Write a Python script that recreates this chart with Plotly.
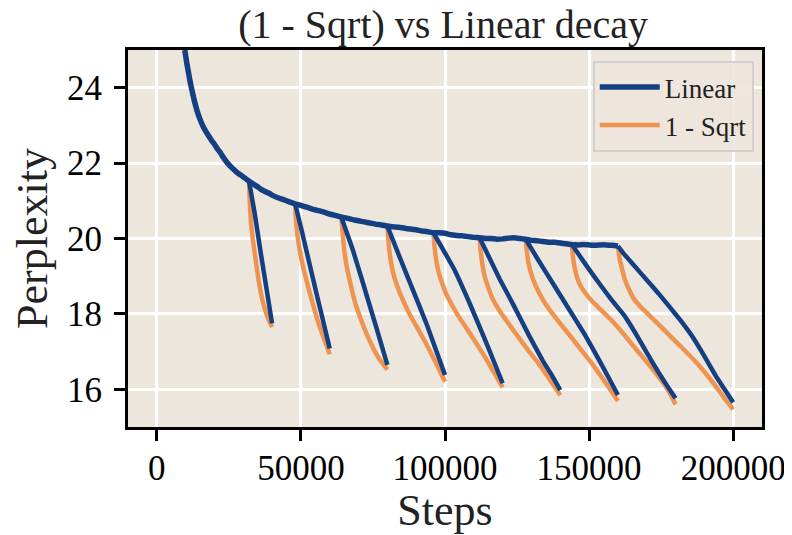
import plotly.graph_objects as go

BG = "rgb(237,230,221)"
BLUE = "#143f82"
ORANGE = "#ee9350"
FONT = "Liberation Serif"

title_text = "(1 - Sqrt) vs Linear decay"
x_label = "Steps"
y_label = "Perplexity"
series_names = ["Linear", "1 - Sqrt"]

x_ticks = [0, 50000, 100000, 150000, 200000]
x_tick_labels = ["0", "50000", "100000", "150000", "200000"]
y_ticks = [16, 18, 20, 22, 24]
y_tick_labels = ["16", "18", "20", "22", "24"]

# constant-LR run (shared trunk of the Linear runs)
main_steps = [9700, 10000, 10500, 11000, 11500, 12000, 13000, 14000, 15000, 16000, 17000, 18000,
              19000, 20000, 21000, 22000, 23000, 24000, 25000, 26000, 27000, 28000, 29000, 30000,
              31000, 32000, 33000, 34000, 35000, 36000, 37000, 38000, 39000, 40000, 42000, 44000,
              46000, 48000, 50000, 52000, 54000, 56000, 58000, 60000, 62000, 64000, 66000, 68000,
              70000, 72000, 74000, 76000, 78000, 80000, 82000, 84000, 86000, 88000, 90000, 92000,
              94000, 96000, 98000, 100000, 102000, 104000, 106000, 108000, 110000, 112000, 114000,
              116000, 118000, 120000, 122000, 124000, 126000, 128000, 130000, 132000, 134000,
              136000, 138000, 140000, 142000, 144000, 146000, 148000, 150000, 152000, 154000,
              156000, 158000, 160000]
main_ppl = [25.0, 24.85, 24.6, 24.4, 24.18, 24.0, 23.66, 23.38, 23.16, 22.98, 22.84, 22.72,
            22.6, 22.5, 22.38, 22.28, 22.16, 22.05, 21.96, 21.88, 21.81, 21.74, 21.69, 21.63,
            21.58, 21.52, 21.47, 21.42, 21.37, 21.31, 21.27, 21.23, 21.2, 21.15, 21.08, 21.03,
            20.97, 20.92, 20.88, 20.83, 20.78, 20.74, 20.7, 20.65, 20.61, 20.57, 20.54, 20.5,
            20.47, 20.44, 20.41, 20.38, 20.36, 20.33, 20.31, 20.3, 20.27, 20.25, 20.23, 20.2,
            20.18, 20.15, 20.15, 20.14, 20.1, 20.08, 20.07, 20.05, 20.03, 20.02, 20.0,
            20.0, 19.98, 19.99, 20.01, 20.02, 20.0, 19.98, 19.95, 19.94, 19.92,
            19.9, 19.9, 19.88, 19.86, 19.84, 19.83, 19.84, 19.83, 19.82, 19.83,
            19.83, 19.82, 19.8]

# Linear cooldown branches
lin_steps = [
    [32000, 34000, 36000, 38000, 40000],
    [48000, 50000, 52000, 54000, 56000, 58000, 60000],
    [64000, 68000, 72000, 76000, 80000],
    [80000, 84560, 89200, 93870, 100000],
    [96000, 103140, 108950, 114770, 120000],
    [112000, 115000, 119000, 124000, 129000, 134000, 137000, 140000],
    [128000, 132200, 138000, 142650, 148430, 154250, 160000],
    [144000, 146000, 150000, 154000, 158000, 162000, 166000, 170000, 174000, 177000, 180000],
    [160000, 162000, 166000, 170000, 174000, 178000, 182000, 186000, 190000, 194000, 197000, 200000],
]
lin_ppl = [
    [21.52, 20.65, 19.65, 18.7, 17.75],
    [20.92, 20.3, 19.65, 19.0, 18.35, 17.72, 17.08],
    [20.57, 19.7, 18.7, 17.68, 16.65],
    [20.33, 19.45, 18.57, 17.68, 16.38],
    [20.15, 19.19, 18.21, 17.15, 16.16],
    [20.02, 19.55, 18.92, 18.2, 17.45, 16.75, 16.38, 15.98],
    [19.98, 19.45, 18.74, 18.17, 17.46, 16.67, 15.85],
    [19.84, 19.62, 19.18, 18.76, 18.35, 17.98, 17.5, 16.97, 16.46, 16.1, 15.76],
    [19.8, 19.6, 19.25, 18.9, 18.55, 18.18, 17.8, 17.38, 16.88, 16.35, 16.0, 15.65],
]

# 1 - Sqrt cooldown branches
sqrt_steps = [
    [32000, 32150, 32350, 32700, 33200, 33900, 34800, 36000, 37500, 38800, 40000],
    [48000, 48200, 48500, 49100, 50000, 51000, 52400, 54000, 56000, 58000, 60000],
    [64000, 64250, 64600, 65100, 65900, 67200, 68800, 71200, 73600, 76800, 80000],
    [80000, 80300, 80700, 81200, 82200, 83500, 85500, 88000, 91000, 94000, 97000, 100000],
    [96000, 96350, 96800, 97500, 98700, 100300, 102300, 105000, 108000, 111000, 114000, 117000, 120000],
    [112000, 112400, 112900, 113700, 115000, 116800, 119200, 122000, 125500, 129000, 132500, 136000, 140000],
    [128000, 128450, 129000, 130000, 131500, 133500, 136000, 139500, 143500, 147500, 151500, 155500, 160000],
    [144000, 144500, 145300, 146500, 148400, 151000, 154200, 157500, 160500, 165800, 171600, 177400, 180000],
    [160000, 160630, 161460, 162370, 163550, 165290, 167600, 170520, 175160, 180970, 186760, 192570, 197210, 200000],
]
sqrt_ppl = [
    [21.52, 21.2, 20.8, 20.4, 20.05, 19.65, 19.15, 18.6, 18.12, 17.85, 17.65],
    [20.92, 20.6, 20.3, 19.92, 19.52, 19.17, 18.75, 18.3, 17.78, 17.35, 16.93],
    [20.57, 20.35, 20.05, 19.65, 19.25, 18.8, 18.3, 17.78, 17.33, 16.85, 16.52],
    [20.33, 20.0, 19.68, 19.4, 19.03, 18.72, 18.35, 17.95, 17.55, 17.13, 16.68, 16.2],
    [20.15, 19.8, 19.5, 19.2, 18.88, 18.55, 18.25, 17.9, 17.56, 17.2, 16.84, 16.45, 16.05],
    [20.02, 19.65, 19.35, 19.02, 18.7, 18.36, 18.05, 17.75, 17.38, 17.02, 16.68, 16.3, 15.84],
    [19.98, 19.64, 19.34, 19.04, 18.74, 18.44, 18.14, 17.79, 17.41, 17.02, 16.63, 16.2, 15.69],
    [19.84, 19.45, 19.12, 18.83, 18.58, 18.34, 18.1, 17.85, 17.6, 17.11, 16.58, 15.98, 15.6],
    [19.8, 19.45, 19.19, 18.92, 18.7, 18.43, 18.21, 17.99, 17.64, 17.2, 16.75, 16.22, 15.74, 15.47],
]

fig = go.Figure()

for i, (xs, ys) in enumerate(zip(sqrt_steps, sqrt_ppl)):
    fig.add_trace(go.Scatter(
        x=xs, y=ys, mode="lines", name=series_names[1], legendgroup="sqrt",
        showlegend=(i == 0), legendrank=2,
        line=dict(color=ORANGE, width=4.5, shape="spline", smoothing=0.4)))

fig.add_trace(go.Scatter(
    x=main_steps, y=main_ppl, mode="lines", name=series_names[0], legendgroup="lin",
    showlegend=True, legendrank=1,
    line=dict(color=BLUE, width=5.5, shape="spline", smoothing=0.3)))

for xs, ys in zip(lin_steps, lin_ppl):
    fig.add_trace(go.Scatter(
        x=xs, y=ys, mode="lines", name=series_names[0], legendgroup="lin",
        showlegend=False,
        line=dict(color=BLUE, width=4.5, shape="spline", smoothing=0.3)))

axis_common = dict(
    showline=True, linewidth=3, linecolor="black", mirror=True,
    ticks="outside", ticklen=11, tickwidth=2.5, tickcolor="black",
    showgrid=True, gridcolor="white", gridwidth=2.5, zeroline=False,
    tickfont=dict(family=FONT, size=35, color="black"), automargin=False,
)

fig.update_xaxes(range=[-10000, 210000], tickvals=x_ticks, ticktext=x_tick_labels,
                 ticklabelstandoff=-3,
                 title=dict(text=x_label, font=dict(family=FONT, size=44, color="#222"), standoff=4),
                 **axis_common)
fig.update_yaxes(range=[15, 25], tickvals=y_ticks, ticktext=y_tick_labels,
                 ticklabelstandoff=5,
                 title=dict(text=y_label, font=dict(family=FONT, size=44, color="#222"), standoff=8),
                 **axis_common)

# page body has an 8px margin, so the figure is 8px smaller on each axis
fig.update_layout(
    width=784, height=527,
    margin=dict(l=120, r=30, t=42, b=108),
    paper_bgcolor="white", plot_bgcolor=BG,
    title=dict(text=title_text, font=dict(family=FONT, size=40, color="#222"),
               x=0.555, xanchor="center", y=0.969, yref="container", yanchor="middle"),
    legend=dict(x=0.987, y=0.971, xanchor="right", yanchor="top",
                bgcolor="rgba(237,230,221,0.9)", bordercolor="rgba(205,205,205,0.9)", borderwidth=2,
                font=dict(family=FONT, size=27, color="#222"),
                tracegroupgap=0, itemwidth=60),
    showlegend=True,
)

fig.write_html("out.html")
